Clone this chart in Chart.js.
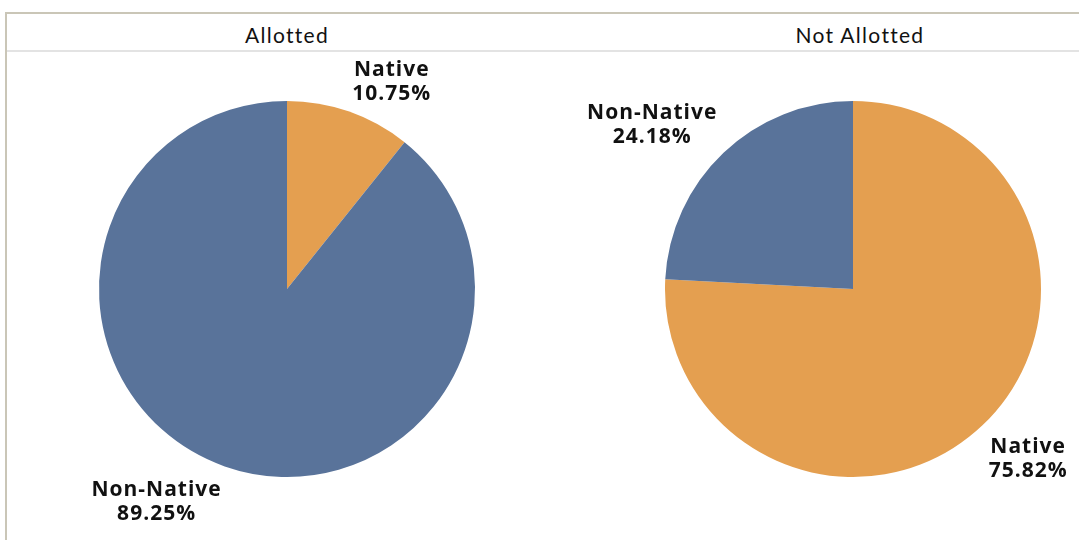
<!DOCTYPE html>
<html>
<head>
<meta charset="utf-8">
<script src="https://cdn.jsdelivr.net/npm/chart.js@4.4.1/dist/chart.umd.min.js"></script>
<style>
  html, body { margin: 0; padding: 0; background: #ffffff; overflow: hidden; }
  body { width: 1079px; height: 540px; position: relative; font-family: Lato, "Open Sans", sans-serif; }
  .line { position: absolute; }
  .hdr { position: absolute; top: 22px; font-size: 21px; color: #111; text-align: center; letter-spacing: 1.3px; }
  .box { position: absolute; }
</style>
</head>
<body>
<div class="line" style="left:5px; top:12px; width:1074px; height:2px; background:#cac6b7;"></div>
<div class="line" style="left:5px; top:12px; width:2px; height:528px; background:#cac6b7;"></div>
<div class="line" style="left:7px; top:50px; width:1072px; height:2px; background:#e3e3e3;"></div>
<div class="hdr" id="h0" style="left:137px; width:300px;"></div>
<div class="hdr" id="h1" style="left:710px; width:300px;"></div>
<div class="box" style="left:7px; top:52px; width:560px; height:474px;"><canvas id="c0"></canvas></div>
<div class="box" style="left:560px; top:52px; width:519px; height:474px;"><canvas id="c1"></canvas></div>
<script>
const panels = ["Allotted", "Not Allotted"];
const allottedLabels = ["Native", "Non-Native"];
const allottedValues = [10.75, 89.25];
const notAllottedLabels = ["Native", "Non-Native"];
const notAllottedValues = [75.82, 24.18];
const colors = { "Native": "#e49f50", "Non-Native": "#59739a" };

document.getElementById('h0').textContent = panels[0];
document.getElementById('h1').textContent = panels[1];

const labelPlugin = {
  id: 'outerLabels',
  afterDatasetsDraw(chart) {
    const ctx = chart.ctx;
    const meta = chart.getDatasetMeta(0);
    const ds = chart.data.datasets[0];
    ctx.save();
    ctx.font = 'bold 21px "Open Sans", Lato, sans-serif';
    if ('letterSpacing' in ctx) ctx.letterSpacing = '1px';
    ctx.fillStyle = '#111111';
    ctx.textBaseline = 'middle';
    ctx.textAlign = 'center';
    const lh = 24;
    meta.data.forEach((arc, i) => {
      const p = arc.getProps(['x', 'y', 'startAngle', 'endAngle', 'outerRadius'], true);
      const mid = (p.startAngle + p.endAngle) / 2;
      const R = p.outerRadius + 9;
      const px = p.x + R * Math.cos(mid);
      const py = p.y + R * Math.sin(mid) + 3;
      const l1 = chart.data.labels[i];
      const l2 = ds.data[i].toFixed(2) + '%';
      const w = Math.max(ctx.measureText(l1).width, ctx.measureText(l2).width);
      const h = lh * 2;
      const left = Math.cos(mid) >= 0 ? px : px - w;
      const top = Math.sin(mid) < 0 ? py - h : py;
      const cx = left + w / 2;
      ctx.fillText(l1, cx, top + lh / 2);
      ctx.fillText(l2, cx, top + lh * 1.5);
    });
    ctx.restore();
  }
};

function makePie(id, labels, values, pad) {
  new Chart(document.getElementById(id), {
    type: 'pie',
    data: {
      labels: labels,
      datasets: [{
        data: values,
        backgroundColor: labels.map(l => colors[l]),
        borderWidth: 0,
        hoverOffset: 0,
        radius: 188
      }]
    },
    options: {
      responsive: true,
      maintainAspectRatio: false,
      animation: false,
      layout: { padding: pad },
      plugins: { legend: { display: false }, tooltip: { enabled: false } },
      events: []
    },
    plugins: [labelPlugin]
  });
}
makePie('c0', allottedLabels, allottedValues, { left: 0, right: 0 });
makePie('c1', notAllottedLabels, notAllottedValues, { left: 67, right: 0 });
</script>
</body>
</html>
